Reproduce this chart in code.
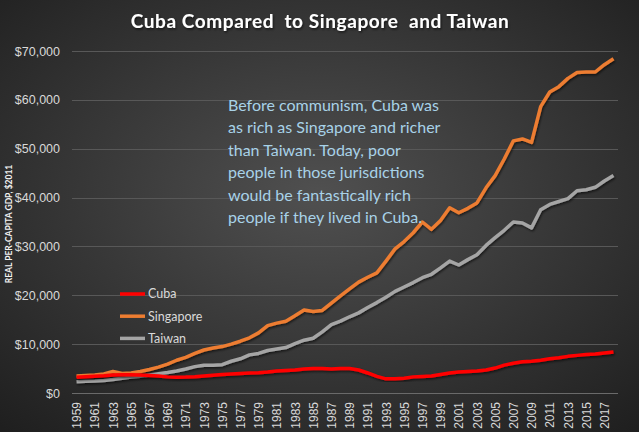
<!DOCTYPE html>
<html>
<head>
<meta charset="utf-8">
<script src="https://cdn.jsdelivr.net/npm/d3@7"></script>
<style>
  html, body { margin: 0; padding: 0; background: #2b2b2b; }
  svg { display: block; font-family: Lato, 'Open Sans', sans-serif; }
</style>
</head>
<body>
<div id="chart"></div>
<script>
// Years 1959 - 2018
const years = d3.range(1959, 2019)

// Real per-capita GDP ($2011)
const cuba = [
  3200, 3350, 3450, 3550, 3700, 3750, 3750, 3700, 3600, 3500,
  3300, 3200, 3250, 3350, 3500, 3650, 3800, 3900, 4000, 4100,
  4150, 4300, 4500, 4600, 4700, 4900, 5000, 5000, 4900, 5000,
  5000, 4700, 4100, 3400, 2900, 2900, 3000, 3300, 3400, 3500,
  3800, 4100, 4300, 4400, 4500, 4700, 5100, 5700, 6100, 6400,
  6500, 6700, 7000, 7200, 7500, 7700, 7900, 8000, 8200, 8400,
]
const singapore = [
  3500, 3600, 3700, 3900, 4400, 4000, 4100, 4400, 4800, 5300,
  5900, 6700, 7300, 8100, 8800, 9200, 9500, 10000, 10600, 11300,
  12300, 13800, 14300, 14700, 15800, 17000, 16700, 16900, 18400, 19900,
  21300, 22700, 23700, 24600, 27000, 29500, 31000, 32800, 35000, 33500,
  35300, 37900, 36900, 37800, 38900, 42000, 44500, 47900, 51600, 52000,
  51300, 58600, 61600, 62700, 64400, 65600, 65700, 65700, 67200, 68400,
]
const taiwan = [
  2300, 2400, 2450, 2550, 2750, 3000, 3250, 3450, 3700, 3950,
  4200, 4500, 4900, 5400, 5700, 5700, 5800, 6500, 7000, 7800,
  8100, 8700, 9000, 9300, 10100, 10800, 11200, 12500, 14000, 14700,
  15600, 16400, 17500, 18500, 19600, 20800, 21700, 22600, 23600, 24300,
  25600, 27000, 26200, 27300, 28300, 30200, 31800, 33300, 35000, 34800,
  33800, 37500, 38600, 39200, 39800, 41400, 41600, 42100, 43400, 44500,
]

const seriesNames = ['Cuba', 'Singapore', 'Taiwan']
const seriesColors = ['#ff0000', '#ed7d31', '#a5a5a5']
const yTicks = [0, 10000, 20000, 30000, 40000, 50000, 60000, 70000]
const noteLines = [
  'Before communism, Cuba was',
  'as rich as Singapore and richer',
  'than Taiwan. Today, poor',
  'people in those jurisdictions',
  'would be fantastically rich',
  'people if they lived in Cuba.',
]

const width = 639
const height = 432
const margin = { top: 51, right: 21, bottom: 38, left: 72 }

const svg = d3
  .select('#chart')
  .append('svg')
  .attr('width', width)
  .attr('height', height)

// Background radial gradient (dark Excel style)
const defs = svg.append('defs')
const grad = defs
  .append('radialGradient')
  .attr('id', 'bg')
  .attr('cx', '50%')
  .attr('cy', '45%')
  .attr('r', '75%')
grad.append('stop').attr('offset', '0%').attr('stop-color', '#505050')
grad.append('stop').attr('offset', '100%').attr('stop-color', '#1e1e1e')

const shadow = defs.append('filter').attr('id', 'shadow')
shadow
  .append('feDropShadow')
  .attr('dx', 1)
  .attr('dy', 1.5)
  .attr('stdDeviation', 1.2)
  .attr('flood-color', '#000')
  .attr('flood-opacity', 0.6)

svg
  .append('rect')
  .attr('width', width)
  .attr('height', height)
  .attr('fill', 'url(#bg)')

const x = d3
  .scalePoint()
  .domain(years)
  .range([margin.left, width - margin.right])
  .padding(0.5)

const y = d3
  .scaleLinear()
  .domain([0, 70000])
  .range([height - margin.bottom - 1, margin.top])

// Gridlines
svg
  .append('g')
  .selectAll('line')
  .data(yTicks)
  .join('line')
  .attr('x1', margin.left)
  .attr('x2', width - margin.right)
  .attr('y1', (d) => Math.round(y(d)) + 0.5)
  .attr('y2', (d) => Math.round(y(d)) + 0.5)
  .attr('stroke', (d) => (d === 0 ? '#6a6a6a' : '#585858'))
  .attr('stroke-width', 1)

// Y axis labels
const yAxis = svg
  .append('g')
  .attr('transform', `translate(${margin.left - 9},0)`)
  .call(
    d3
      .axisLeft(y)
      .tickValues(yTicks)
      .tickSize(0)
      .tickFormat((d) => '$' + d3.format(',')(d))
  )
yAxis.select('.domain').remove()
yAxis
  .selectAll('text')
  .attr('fill', '#d9d9d9')
  .attr('font-size', 12.5)

// X axis labels (every other year)
const xAxis = svg
  .append('g')
  .attr('transform', `translate(0,${height - margin.bottom})`)
  .call(
    d3
      .axisBottom(x)
      .tickValues(years.filter((d) => (d - 1959) % 2 === 0))
      .tickSize(0)
  )
xAxis.select('.domain').remove()
xAxis
  .selectAll('text')
  .attr('fill', '#d9d9d9')
  .attr('font-size', 12)
  .attr('transform', 'rotate(-90)')
  .attr('text-anchor', 'end')
  .attr('x', -8)
  .attr('y', 0)
  .attr('dy', '0.35em')

// Y axis title
svg
  .append('text')
  .attr('transform', `translate(12,${(y(0) + y(70000)) / 2 + 2}) rotate(-90)`)
  .attr('text-anchor', 'middle')
  .attr('fill', '#f2f2f2')
  .attr('font-size', 8.5)
  .attr('font-weight', 'bold')
  .text('REAL PER-CAPITA GDP, $2011')

// Lines
const line = d3
  .line()
  .x((d, i) => x(years[i]))
  .y((d) => y(d))

const allSeries = [cuba, singapore, taiwan]
// draw order: Taiwan and Singapore below Cuba
;[2, 1, 0].forEach((k) => {
  svg
    .append('path')
    .datum(allSeries[k])
    .attr('fill', 'none')
    .attr('stroke', seriesColors[k])
    .attr('stroke-width', 3.5)
    .attr('stroke-linejoin', 'round')
    .attr('filter', 'url(#shadow)')
    .attr('d', line)
})

// Legend
const legend = svg
  .append('g')
  .selectAll('g')
  .data(seriesNames)
  .join('g')
  .attr('transform', (d, i) => `translate(120,${294 + i * 22.2})`)
legend
  .append('line')
  .attr('x1', 0)
  .attr('x2', 25)
  .attr('stroke', (d, i) => seriesColors[i])
  .attr('stroke-width', 3.5)
legend
  .append('text')
  .attr('x', 28)
  .attr('dy', '0.35em')
  .attr('fill', '#d9d9d9')
  .attr('font-size', 12.5)
  .text((d) => d)

// Annotation
svg
  .append('g')
  .selectAll('text')
  .data(noteLines)
  .join('text')
  .attr('x', 228)
  .attr('y', (d, i) => 111 + i * 22.4)
  .attr('fill', '#a8d2e8')
  .attr('font-size', 16)
  .text((d) => d)

// Title
svg
  .append('text')
  .attr('x', 320)
  .attr('y', 28)
  .attr('text-anchor', 'middle')
  .attr('fill', '#ffffff')
  .attr('font-size', 19)
  .attr('font-weight', 'bold')
  .attr('letter-spacing', 0.6)
  .attr('filter', 'url(#shadow)')
  .style('white-space', 'pre')
  .text('Cuba Compared  to Singapore  and Taiwan')
</script>
</body>
</html>
